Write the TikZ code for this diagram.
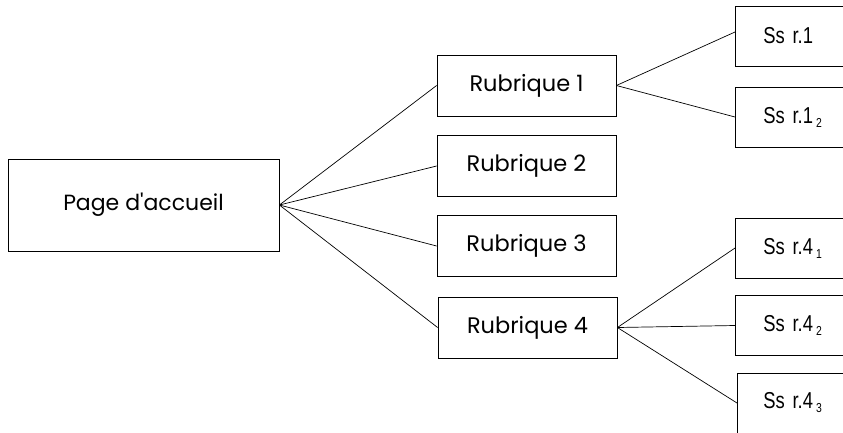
\documentclass[tikz,border=0pt]{standalone}
\usepackage{fontspec}
\setmainfont{Poppins}
\newfontfamily\narrowfont[FakeStretch=0.8]{Liberation Sans}
\newcommand\subidx[1]{\hspace{3pt}\raisebox{-4pt}{\fontsize{13}{13}\selectfont #1}}
\begin{document}
\begin{tikzpicture}[x=1pt,y=-1pt,
  box/.style={draw=black,line width=0.8pt,minimum width=179pt,minimum height=61pt,inner sep=0pt,font=\fontsize{22.5}{26}\selectfont},
  subbox/.style={draw=black,line width=0.8pt,anchor=west,minimum height=60pt,text width=84pt,inner xsep=28pt,inner ysep=0pt,align=left,font=\narrowfont\fontsize{23}{26}\selectfont},
  link/.style={draw=black,line width=0.7pt}]
\useasboundingbox (0,0) rectangle (843,432);
\clip (0,0) rectangle (843,432);
\fill[white] (0,0) rectangle (843,432);
\node[box,minimum width=271pt,minimum height=92pt,font=\fontsize{22}{26}\selectfont] (home) at (143.5,205) {Page d\textquotesingle accueil};
\node[box] (r1) at (526.5,85.5) {Rubrique 1};
\node[box] (r2) at (526.5,166) {Rubrique 2};
\node[box] (r3) at (526.5,246) {Rubrique 3};
\node[box] (r4) at (527.5,327.5) {Rubrique 4};
\node[subbox] (s11) at (735,36) {Ss r.1};
\node[subbox] (s12) at (735,117) {Ss r.1\subidx{2}};
\node[subbox] (s41) at (735,248) {Ss r.4\subidx{1}};
\node[subbox] (s42) at (735,325.5) {Ss r.4\subidx{2}};
\node[subbox,inner xsep=26pt] (s43) at (737,403) {Ss r.4\subidx{3}};
\draw[link] (home.east) -- (r1.west);
\draw[link] (home.east) -- (r2.west);
\draw[link] (home.east) -- (r3.west);
\draw[link] (home.east) -- (r4.west);
\draw[link] (r1.east) -- ([yshift=4pt]s11.west);
\draw[link] (r1.east) -- (s12.west);
\draw[link] (r4.east) -- (s41.west);
\draw[link] (r4.east) -- (s42.west);
\draw[link] (r4.east) -- (s43.west);
\end{tikzpicture}
\end{document}
